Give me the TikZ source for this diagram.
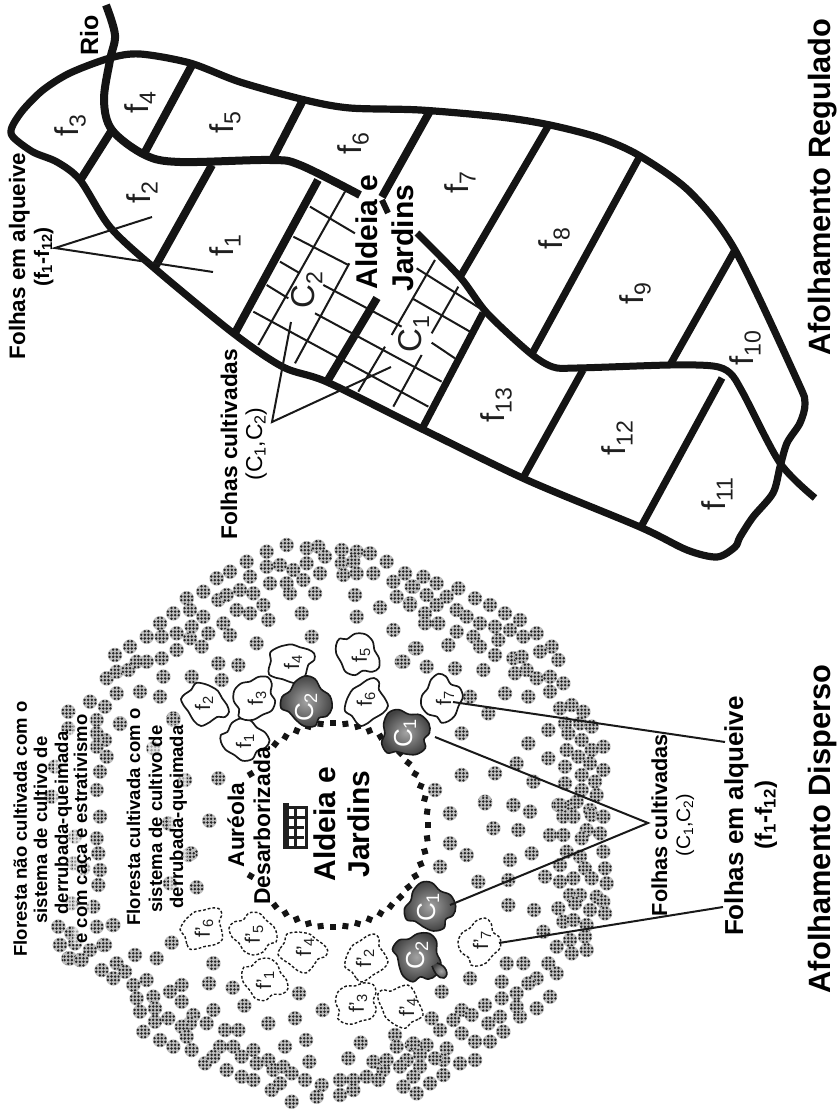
\documentclass[tikz,border=0pt]{standalone}
\usepackage{fontspec}
\setmainfont{Liberation Sans}
\newcommand\sbs[1]{\textsubscript{\kern-0.02em #1}}
\tikzset{
  x=1pt,y=-1pt,
  thickline/.style={line width=8pt,line cap=butt,line join=round,color=black!92},
  thinline/.style={line width=2pt,color=black!90},
  gridline/.style={line width=2pt,color=black!90},
  lab/.style={rotate=90,anchor=base,inner sep=0pt,font=\fontsize{#1pt}{#1pt}\selectfont\bfseries},
  reglab/.style={rotate=90,anchor=base,inner sep=0pt,font=\fontsize{#1pt}{#1pt}\selectfont},
  fieldlab/.style={rotate=90,anchor=center,inner sep=0pt,font=\fontsize{#1pt}{#1pt}\selectfont,color=black!88},
  veil/.style={fill=white,fill opacity=.55,text opacity=1,inner sep=.5pt},
  solidblob/.style={draw=black!90,line width=1.7pt,fill=white},
  dashblob/.style={draw=black!90,line width=1.4pt,dash pattern=on 2.8pt off 2pt,fill=white},
  cblob/.style={draw=black!90,line width=1.6pt,inner color=black!36,outer color=black!74},
  fdot/.pic={
    \fill[black!25] (0,0) circle (7.3);
    \fill[black!85] (-1.8,-1.8) circle (1.4) (1.8,-1.8) circle (1.4) (-1.8,1.8) circle (1.4) (1.8,1.8) circle (1.4)
      (-5.4,-1.8) circle (1.35) (-5.4,1.8) circle (1.35) (5.4,-1.8) circle (1.35) (5.4,1.8) circle (1.35)
      (-1.8,-5.4) circle (1.35) (1.8,-5.4) circle (1.35) (-1.8,5.4) circle (1.35) (1.8,5.4) circle (1.35);
  }
}
\newcommand\fdots[3]{\begin{scope}[shift={(#1,#2)}]\foreach \zx/\zy in {#3}{\pic at ({\zx/3},{\zy/3}) {fdot};}\end{scope}}
\newcommand\blobA[4]{\draw[#1,shift={(#2,#3)},rotate=#4] plot[smooth cycle,tension=.55] coordinates
  {(-24,-4)(-20,-9)(-14,-13)(-9,-20)(0,-19)(7,-16)(13,-12)(17,-5)(22,2)(24,9)(20,14)(12,14)(5,19)(-4,23)(-11,18)(-17,8)(-21,3)};}
\newcommand\blobB[4]{\draw[#1,shift={(#2,#3)},rotate=#4] plot[smooth cycle,tension=.55] coordinates
  {(-23,-9)(-16,-11)(-10,-19)(0,-22)(9,-18)(14,-10)(21,-4)(24,5)(19,11)(10,13)(4,20)(-6,20)(-13,13)(-21,6)(-24,-2)};}
\begin{document}
\begin{tikzpicture}
\useasboundingbox[fill=white] (0,0) rectangle (837,1114);

% ---------- forest dots
\fdots{0}{530}{860/45,800/65,920/55,955/50,975/80,1025/60,1070/65,1110/70,1160/95,1215/130,740/95,690/125,650/145,750/140,800/110,840/105,880/120,920/100,960/130,1025/100,1060/95,1030/135,1070/130,1120/130,1180/155,1240/170,610/185,560/205,520/250,480/280,440/320,390/350,345/375,320/445,350/425,385/420,350/490,410/395,485/320,440/395,485/385,530/360,605/350,570/325,625/310,575/290,610/260,570/240,530/310,655/210,680/195,720/180,760/190,790/225,710/240,750/250,670/280,690/315,805/270,905/250,945/190,870/190,810/160,860/160,910/150,1065/195,1140/232,1190/200,1230/220,1070/260,1180/300,1245/355,1205/395,935/320,770/340,715/405,655/400,665/450,575/440,490/440,420/485,480/500,360/580,520/565,655/745}
\fdots{400}{530}{15/130,70/140,110/160,35/170,175/175,80/195,30/225,140/200,225/205,110/225,75/250,115/280,75/280,170/240,200/260,270/225,315/250,360/270,240/280,285/290,330/300,170/305,220/320,240/350,285/375,295/330,370/320,410/310,455/350,475/390,340/385,365/380,420/365,380/420,410/445,345/430,450/440,490/460,450/485,50/355,145/345,10/395,80/410,165/415,250/420,315/490,385/500,210/500,265/550,185/610,445/600,385/640,445/685,480/535,515/525,550/545,495/580,540/580,575/590,505/610,545/630,610/650,500/660,535/680,575/660,570/700,610/720,495/710,545/735,585/755,495/760,545/780,590/795,105/780,185/735,285/730,350/700,400/755,255/815,340/825,390/845,150/850,475/825,510/830,490/860,530/815,570/840,610/860,520/860}
\fdots{400}{800}{150/40,255/10,340/15,390/35,280/85,355/90,450/105,490/105,480/15,520/50,575/45,610/50,560/90,600/100,545/115,150/130,200/165,120/200,330/180,395/160,500/155,610/155,540/170,480/195,555/205,615/205,435/230,480/245,520/235,575/235,620/250,235/245,325/240,510/285,540/285,590/290,610/305,475/325,525/310,570/330,615/340,325/315,402/330,490/365,520/360,560/375,430/395,470/440,510/420,555/410,515/460,560/450,320/490,370/490,445/490,470/520,450/590,410/535,385/550,350/580,305/545,410/625,360/650,210/535,125/575,255/615,305/595,350/620,95/655,120/690,185/630,160/660,215/645,265/670,300/650,310/695,185/700,225/725,270/725,35/735,80/735,60/765,20/780,140/745,180/790,225/780,130/780,105/775,60/800,130/825,90/850,50/880,10/860,40/830}
\fdots{0}{800}{628/62,573/160,590/262,338/375,515/428,405/465,470/475,640/490,627/550,698/563,733/617,897/580,968/630,640/630,885/655,805/670,918/720,855/740,1082/728,928/785,1045/775,1185/705,1120/785,180/435,205/475,240/480,310/435,215/400,175/380,305/510,340/535,350/490,375/515,400/555,440/540,545/555,410/595,460/590,510/575,420/635,465/625,545/605,580/645,465/665,505/655,430/695,480/720,520/740,570/670,545/680,620/670,675/690,715/690,560/710,575/750,615/790,660/740,700/740,640/770,680/810,725/830,760/750,725/770,805/780,770/790,760/840,820/810,850/800,815/870,840/850,875/820,915/840,875/905,965/855,950/890,1020/840,1060/840,1020/885,1060/870,1100/830,1150/810,1135/840,1190/740,1200/800,1240/730,1160/780,1210/860}
\fdots{0}{650}{205/185,270/155,315/170,290/210,205/235,360/222,315/270,290/250,320/320,300/365,290/290,290/420,300/500,290/565,295/610,300/660,295/705,280/770,290/830,340/825,215/850,180/885,225/880,270/900,315/885,210/925,245/930,520/210,460/295,555/390,505/520,565/615,510/700,155/440,225/560,220/640,165/350,215/760,250/655}

% ---------- clearing ring
\foreach \a in {0,7.5,...,352.5}{
  \pgfmathtruncatemacro\skipit{(\a>152 && \a<209) || (\a>128 && \a<144) || (\a>216 && \a<230) ? 1 : 0}
  \ifnum\skipit=0
    \fill[black!92,shift={({333+95*cos(\a)},{825+102*sin(\a)})},rotate=\a] (-3,-3) rectangle (3,3);
  \fi
}

% ---------- village icon
\draw[line width=6.5pt,black!88] (286,803) -- (286,849);
\draw[line width=3pt,black!88] (283,807) -- (308,807) (283,817) -- (308,817) (283,827) -- (304,827) (283,837) -- (304,837) (283,847) -- (308,847)
  (295,807) -- (295,847) (306,807) -- (306,847);

% ---------- dispersed fields
\blobA{solidblob}{205}{703}{0}
\blobB{solidblob}{245}{740}{10}
\blobB{solidblob}{255}{698}{70}
\blobA{solidblob}{290}{662}{40}
\blobB{solidblob}{358}{655}{-20}
\blobA{solidblob}{365}{702}{90}
\blobB{solidblob}{442}{698}{110}
\blobA{dashblob}{202}{928}{70}
\blobB{dashblob}{253}{933}{180}
\blobA{dashblob}{302}{950}{20}
\blobB{dashblob}{265}{980}{-10}
\blobA{dashblob}{365}{958}{90}
\blobB{dashblob}{357}{1003}{60}
\blobA{dashblob}{400}{1007}{170}
\blobB{dashblob}{480}{942}{90}
% cultivated fields
\foreach \cx/\cy/\ca in {307/702/0,405/733/35,430/907/15,418/957/-30}{
  \begin{scope}[shift={(\cx,\cy)},rotate=\ca]
    \draw[cblob] plot[smooth cycle,tension=.6] coordinates {(-25,-5)(-17,-11)(-12,-20)(-2,-26)(8,-23)(14,-13)(23,-6)(25,6)(20,14)(12,16)(8,24)(-3,24)(-12,17)(-18,10)(-26,6)};
  \end{scope}
}
\draw[cblob] (437,963) .. controls (446,965) and (450,975) .. (444,978) .. controls (438,979) and (434,972) .. (432,966);

% ---------- regulated map
\draw[thickline] plot[smooth,tension=.55] coordinates {(106,5)(115,35)(110,60)(104,100)(112,130)(145,155)(180,162)(270,160)(300,165)(360,195)};
\draw[thickline,line width=7pt] plot[smooth,tension=.5] coordinates {(417,233)(460,277)(487,313)(530,353)(553,367)(577,368)(670,365)(713,366)(730,373)(743,393)(780,463)(815,498)};
\draw[thickline,line width=7.2pt] plot[smooth cycle,tension=.5] coordinates {(110,58)(140,54)(190,63)(240,82)(305,100)(350,108)(420,110)(500,117)(550,125)(600,138)(640,156)(690,192)(735,250)(797,380)(805,403)(800,423)(787,443)(780,467)(773,493)(753,517)(740,537)(735,547)(717,557)(687,550)(640,527)(527,480)(420,428)(327,382)(283,367)(233,333)(153,267)(110,227)(80,180)(57,162)(33,152)(13,137)(12,127)(23,110)(43,90)(70,73)};
\draw[thickline] (112,130) -- (81,179);
\draw[thickline] (192,65) -- (145,152);
\draw[thickline] (303,100) -- (272,160);
\draw[thickline] (212,165) -- (155,267);
\draw[thickline] (318,180) -- (235,333);
\draw[thickline] (430,111) -- (382,197);
\draw[thickline,line width=6pt] (382,200) -- (388,213);
\draw[thickline] (377,298) -- (328,380);
\draw[thickline,line width=7.2pt] (550,123) -- (460,277);
\draw[thickline,line width=7.2pt] (640,156) -- (533,352);
\draw[thickline,line width=7.2pt] (735,250) -- (670,365);
\draw[thickline,line width=7.2pt] (483,313) -- (423,427);
\draw[thickline,line width=7.2pt] (583,370) -- (523,478);
\draw[thickline,line width=7.2pt] (722,378) -- (642,525);
% cultivated grid
\begin{scope}[shift={(220,170)},x=.3333pt,y=-.3333pt]
  \draw[gridline] (375,65) -- (115,525);
  \draw[gridline] (388,280) -- (225,580);
  \draw[gridline] (645,270) -- (515,495) (495,530) -- (415,665);
  \draw[gridline] (715,350) -- (635,490) (605,555) -- (520,710);
  \draw[gridline] (270,110) -- (405,190) (590,295) -- (780,415);
  \draw[gridline] (220,200) -- (385,285) (580,387) -- (750,485);
  \draw[gridline] (180,275) -- (240,310) (310,345) -- (545,470) (635,518) -- (705,565);
  \draw[gridline] (140,345) -- (205,385) (285,430) -- (665,635);
  \draw[gridline] (100,425) -- (625,710);
\end{scope}

% ---------- leader anchors and lines
\coordinate (alqR) at (55,248);
\coordinate (alqRa) at (152,217);
\coordinate (alqRb) at (213,272);
\coordinate (culR) at (272,422);
\coordinate (culRa) at (291,322);
\coordinate (culRb) at (391,367);
\coordinate (alqLa) at (725,742);
\coordinate (alqLat) at (453,702);
\coordinate (alqLb) at (723,907);
\coordinate (alqLbt) at (499,943);
\coordinate (culL) at (648,823);
\coordinate (culLa) at (435,737);
\coordinate (culLb) at (450,905);
\draw[thinline] (alqRa) -- (alqR) -- (alqRb);
\draw[thinline] (culRa) -- (culR) -- (culRb);
\draw[thinline] (alqLa) -- (alqLat);
\draw[thinline] (alqLb) -- (alqLbt);
\draw[thinline] (culLa) -- (culL) -- (culLb);

% ---------- right field labels
\foreach \n/\x/\y/\t in {a1/225/245/1,a2/142/192/2,a3/70/125/3,a4/140/102/4,a5/225/122/5,a6/353/143/6,a7/460/182/7,a8/554/238/8,a9/635/293/9}{
  \node[fieldlab=33] (\n) at (\x,\y) {f\sbs{\t}};
}
\node[fieldlab=33] (a10) at (745,348) {f\sbs{10}};
\node[fieldlab=33] (a11) at (717,494) {f\sbs{11}};
\node[fieldlab=33] (a12) at (617,438) {f\sbs{12}};
\node[fieldlab=33] (a13) at (496,405) {f\sbs{13}};
\node[fieldlab=33] (ac2) at (307,290) {C\sbs{2}};
\node[fieldlab=33] (ac1) at (414,334) {C\sbs{1}};

% ---------- left field labels
\foreach \n/\x/\y/\t in {b1/245/741/1,b2/204/703/2,b3/257/698/3,b4/293/662/4,b5/361/655/5,b6/366/699/6,b7/445/698/7}{
  \node[fieldlab=21] (\n) at (\x,\y) {f\sbs{\t}};
}
\foreach \n/\x/\y/\t in {d6/204/928/6,d5/254/934/5,d4/305/947/4,d1/265/980/1,d2/365/958/2,d3/358/1003/3,e4/408/1007/4,d7/482/940/7}{
  \node[fieldlab=21] (\n) at (\x,\y) {f'\sbs{\t}};
}
\foreach \n/\x/\y/\t in {c2a/306/707/2,c1a/405/733/1,c1b/428/907/1,c2b/417/955/2}{
  \node[fieldlab=26,color=white] (\n) at (\x,\y) {C\sbs{\t}};
}

% ---------- texts
\node[lab=30.8] (regt) at (830,187) {Afolhamento Regulado};
\node[lab=30.8] (dist) at (830,829) {Afolhamento Disperso};
\node[lab=26] (alqL) at (743,816) {Folhas em alqueive};
\node[lab=24] (alqLs) at (772,815) {(f\sbs{1}-f\sbs{12})};
\node[lab=21.7] (culLt) at (667,825) {Folhas cultivadas};
\node[reglab=19.5] (culLs) at (690,825) {(C\sbs{1},C\sbs{2})};
\node[lab=22.7] (culRt) at (237,444) {Folhas cultivadas};
\node[reglab=23] (culRs) at (262,444) {(C\sbs{1},C\sbs{2})};
\node[lab=22.4] (alqRt) at (25,256) {Folhas em alqueive};
\node[lab=21] (alqRs) at (49,257) {(f\sbs{1}-f\sbs{12})};
\node[lab=25] (rio) at (98,35) {Rio};
\node[lab=30] (vil1) at (377,232) {Aldeia e};
\node[lab=30] (vil2) at (413,238) {Jardins};
\node[lab=30] (cen1) at (335,824) {Aldeia e};
\node[lab=30] (cen2) at (369,824) {Jardins};
\node[lab=22.8] (aur1) at (244,825) {Auréola};
\node[lab=22.9] (aur2) at (270,826) {Desarborizada};
\node[lab=18.5] (ft1) at (27,829) {Floresta não cultivada com o};
\node[lab=18.5] (ft2) at (47,830) {sistema de cultivo de};
\node[lab=18.5,veil] (ft3) at (68,823) {derrubada-queimada};
\node[lab=18.5,veil] (ft4) at (87,829) {e com caça e estrativismo};
\node[lab=18.5] (fc1) at (140,817) {Floresta cultivada com o};
\node[lab=18.5,veil] (fc2) at (162,819) {sistema de cultivo de};
\node[lab=18.5,veil] (fc3) at (183,817) {derrubada-queimada};
\end{tikzpicture}
\end{document}
